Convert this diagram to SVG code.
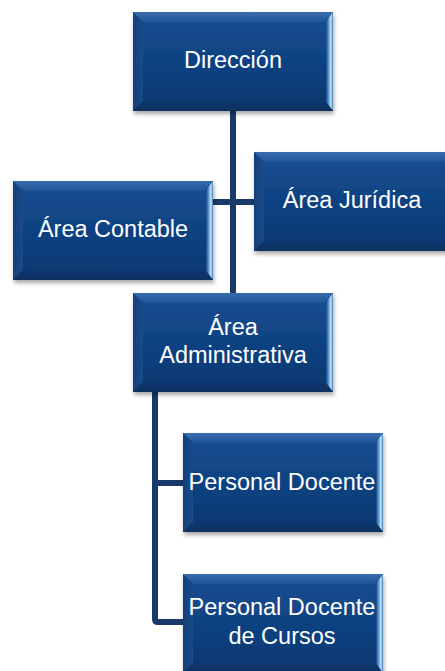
<svg xmlns="http://www.w3.org/2000/svg" xmlns:xlink="http://www.w3.org/1999/xlink" width="445" height="671" viewBox="0 0 445 671">
  <defs>
    <linearGradient id="gBase" x1="0" y1="0" x2="0" y2="1">
      <stop offset="0" stop-color="#1a4f92"/>
      <stop offset="0.5" stop-color="#0f4282"/>
      <stop offset="1" stop-color="#0b376f"/>
    </linearGradient>
    <linearGradient id="gTop" x1="0" y1="0" x2="0" y2="1">
      <stop offset="0" stop-color="#3a6db0"/>
      <stop offset="1" stop-color="#1f5597"/>
    </linearGradient>
    <linearGradient id="gRight" x1="0" y1="0" x2="1" y2="0">
      <stop offset="0" stop-color="#114585"/>
      <stop offset="0.45" stop-color="#6fa8dc"/>
      <stop offset="0.7" stop-color="#c4e8fc"/>
      <stop offset="1" stop-color="#3f76b4"/>
    </linearGradient>
    <linearGradient id="gLeft" x1="0" y1="0" x2="1" y2="0">
      <stop offset="0" stop-color="#143f78"/>
      <stop offset="1" stop-color="#1a4b8b"/>
    </linearGradient>
    <linearGradient id="gBottom" x1="0" y1="0" x2="0" y2="1">
      <stop offset="0" stop-color="#0c386f"/>
      <stop offset="1" stop-color="#09305f"/>
    </linearGradient>
    <filter id="shadow" x="-10%" y="-10%" width="125%" height="130%">
      <feDropShadow dx="1" dy="3" stdDeviation="2" flood-color="#000" flood-opacity="0.35"/>
    </filter>
    <g id="box">
      <rect x="0" y="0" width="200" height="99" fill="url(#gBase)"/>
      <polygon points="0,0 200,0 191,10 10,10" fill="url(#gTop)"/>
      <polygon points="0,0 10,10 10,89 0,99" fill="url(#gLeft)"/>
      <polygon points="200,0 200,99 193,90 193,9" fill="url(#gRight)"/>
      <polygon points="0,99 10,89 193,90 200,99" fill="url(#gBottom)"/>
    </g>
  </defs>
  <style>
    .lbl { font-family: "Liberation Sans", Arial, sans-serif; font-size: 23.5px; fill: #ffffff; text-anchor: middle; }
    .conn { fill: none; stroke: #173a6a; stroke-width: 6; stroke-linejoin: round; }
  </style>

  <g id="connectors">
    <line class="conn" x1="233" y1="105" x2="233" y2="298"/>
    <line class="conn" x1="208" y1="202" x2="258" y2="202"/>
    <path class="conn" d="M155,387 L155,619 Q155,622 158,622 L188,622"/>
    <line class="conn" x1="155" y1="483" x2="188" y2="483"/>
  </g>

  <g id="direccion">
    <use xlink:href="#box" href="#box" x="133" y="12" filter="url(#shadow)"/>
    <text class="lbl" x="233" y="68">Dirección</text>
  </g>

  <g id="area-contable">
    <use xlink:href="#box" href="#box" x="13" y="181" filter="url(#shadow)"/>
    <text class="lbl" x="113" y="237">Área Contable</text>
  </g>

  <g id="area-juridica">
    <use xlink:href="#box" href="#box" x="254" y="152" filter="url(#shadow)"/>
    <text class="lbl" x="352" y="208">Área Jurídica</text>
  </g>

  <g id="area-administrativa">
    <use xlink:href="#box" href="#box" x="133" y="293" filter="url(#shadow)"/>
    <text class="lbl" x="233" y="335">Área</text>
    <text class="lbl" x="233" y="363">Administrativa</text>
  </g>

  <g id="personal-docente">
    <use xlink:href="#box" href="#box" x="183" y="433" filter="url(#shadow)"/>
    <text class="lbl" x="282" y="490">Personal Docente</text>
  </g>

  <g id="personal-docente-cursos">
    <use xlink:href="#box" href="#box" x="183" y="574" filter="url(#shadow)"/>
    <text class="lbl" x="282" y="615">Personal Docente</text>
    <text class="lbl" x="282" y="644">de Cursos</text>
  </g>
</svg>
